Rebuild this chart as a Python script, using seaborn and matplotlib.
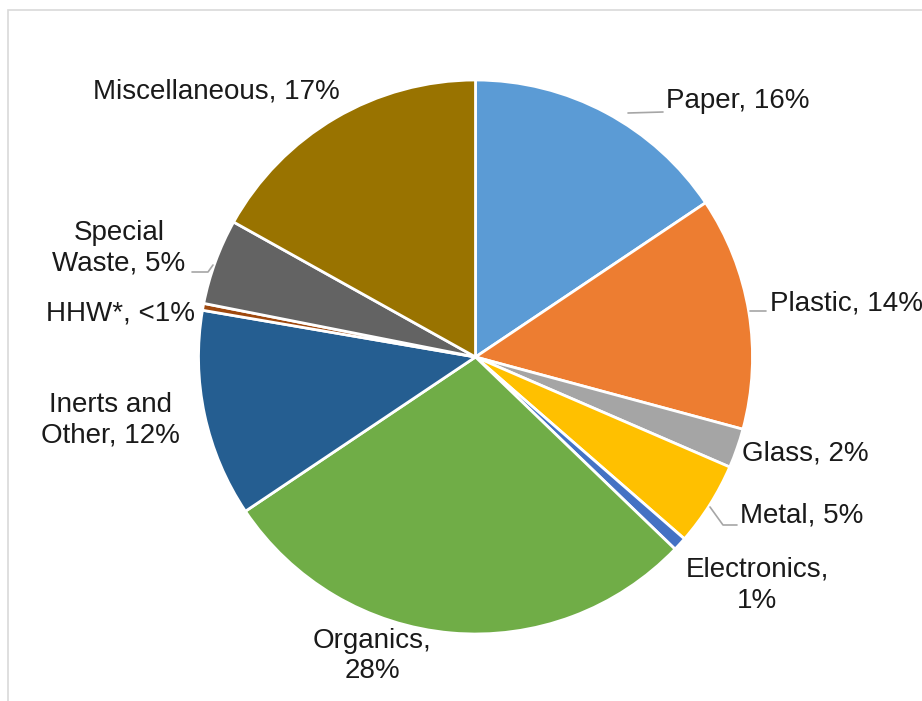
import matplotlib
matplotlib.use("Agg")
import matplotlib.pyplot as plt
import seaborn as sns
from matplotlib.patches import Rectangle

# Waste composition (share of total, %)
categories = ["Paper", "Plastic", "Glass", "Metal", "Electronics", "Organics",
              "Inerts and Other", "HHW*", "Special Waste", "Miscellaneous"]
shares = [15.6, 13.6, 2.3, 4.9, 0.8, 28.4, 12.1, 0.4, 5.0, 16.9]
label_texts = ["Paper, 16%", "Plastic, 14%", "Glass, 2%", "Metal, 5%", "Electronics,\n1%",
               "Organics,\n28%", "Inerts and\nOther, 12%", "HHW*, <1%", "Special\nWaste, 5%",
               "Miscellaneous, 17%"]
colors = ["#5B9BD5", "#ED7D31", "#A5A5A5", "#FFC000", "#4472C4",
          "#70AD47", "#255E91", "#9E480E", "#636363", "#997300"]

sns.set_theme(style="white")
plt.rcParams["font.family"] = ["Liberation Sans", "DejaVu Sans"]

W, H = 922, 701
fig = plt.figure(figsize=(W / 100, H / 100), dpi=100)
ax = fig.add_axes([0, 0, 1, 1])

# work in pixel-like coordinates (y measured from the top)
def py(y):
    return H - y

cx, cy, r = 475.5, 357, 277
ax.pie(shares, colors=sns.color_palette(colors), startangle=90, counterclock=False,
       center=(cx, py(cy)), radius=r,
       wedgeprops=dict(edgecolor="white", linewidth=2))
ax.set_xlim(0, W)
ax.set_ylim(0, H)
ax.set_aspect("equal")
ax.axis("off")

# chart frame
ax.add_patch(Rectangle((8, py(10) - 800), 1000, 800, fill=False,
                       edgecolor="#d9d9d9", linewidth=1.2, clip_on=True))

# label positions: (x, y, ha)
label_pos = [
    (666, 101, "left"),
    (770, 303, "left"),
    (742, 453, "left"),
    (740, 516, "left"),
    (757, 585, "center"),
    (372, 656, "center"),
    (110, 420, "center"),
    (195, 313, "right"),
    (119, 248, "center"),
    (216, 92, "center"),
]
for txt, (x, y, ha) in zip(label_texts, label_pos):
    ax.text(x, py(y), txt, ha=ha, va="center", fontsize=20, color="#1a1a1a",
            linespacing=1.25)

# leader lines
leaders = [
    [(628, 113), (663, 112)],
    [(750, 311), (766, 311)],
    [(710, 507), (723, 525), (737, 525)],
    [(213, 265), (208, 272), (192, 272)],
]
for pts in leaders:
    xs = [p[0] for p in pts]
    ys = [py(p[1]) for p in pts]
    ax.plot(xs, ys, color="#a6a6a6", linewidth=1.2)

fig.savefig("out.png", dpi=100)
